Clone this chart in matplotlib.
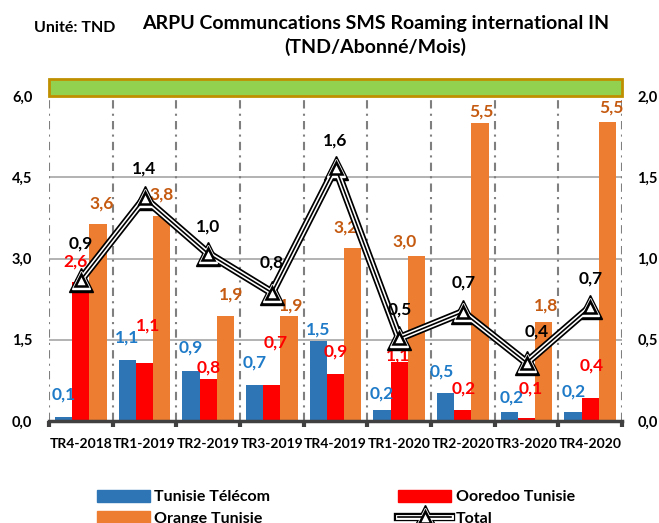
import matplotlib
matplotlib.use('Agg')
import matplotlib.pyplot as plt
from matplotlib.patches import Patch, Rectangle
from matplotlib.lines import Line2D
import numpy as np

plt.rcParams['font.family'] = ['Lato', 'DejaVu Sans']
plt.rcParams['font.weight'] = 'bold'

# data
quarters = ['TR4-2018', 'TR1-2019', 'TR2-2019', 'TR3-2019', 'TR4-2019',
            'TR1-2020', 'TR2-2020', 'TR3-2020', 'TR4-2020']
tunisie_telecom = [0.08, 1.13, 0.93, 0.66, 1.48, 0.20, 0.52, 0.17, 0.17]
ooredoo = [2.56, 1.07, 0.78, 0.67, 0.87, 1.09, 0.20, 0.06, 0.42]
orange = [3.64, 3.78, 1.93, 1.94, 3.20, 3.04, 5.50, 1.83, 5.52]
total = [0.87, 1.37, 1.03, 0.79, 1.56, 0.51, 0.67, 0.36, 0.70]

left_ticks = [0.0, 1.5, 3.0, 4.5, 6.0]
right_ticks = [0.0, 0.5, 1.0, 1.5, 2.0]

# label offsets (pixels) relative to top of bar / marker
tt_off = [(0, 22), (0, 22), (0, 23), (0, 23), (0, 11), (0, 17), (-4, 21), (2, 14), (1, 20)]
oo_off = [(-5, 21), (4, 38), (0, 11), (4, 42), (0, 22), (-1, 6), (1, 22), (4, 29), (1, 33)]
or_off = [(4, 20), (0, 22), (6, 22), (2, 10), (-7, 20), (-12, 15), (1, 12), (2, 16), (4, 15)]
tot_off = [(0, 36), (0, 30), (0, 27), (0, 30), (0, 27), (1, 29), (1, 30), (10, 31), (0, 29)]

c_blue = '#2E75B6'
c_red = '#FF0000'
c_orange = '#ED7D31'


def fmt(v):
    return ('%.1f' % v).replace('.', ',')


fig = plt.figure(figsize=(6.59, 5.23), dpi=100)
ax = fig.add_axes([0.0744, 0.195, 0.8695, 0.6214])

x = np.arange(len(quarters))
w = 0.27

ax.set_xlim(-0.5, len(quarters) - 0.5)
ax.set_ylim(0, 6)

# grid
for yv in left_ticks[1:-1]:
    ax.axhline(yv, color='#A6A6A6', lw=1.2, zorder=0)
for b in np.arange(-0.5, len(quarters), 1.0):
    ax.axvline(b, color='#7F7F7F', lw=1.5, ls=(0, (4, 2.5, 1, 2.5)), zorder=0)

b1 = ax.bar(x - w, tunisie_telecom, w, color=c_blue, zorder=2)
b2 = ax.bar(x, ooredoo, w, color=c_red, zorder=2)
b3 = ax.bar(x + w, orange, w, color=c_orange, zorder=2)

for vals, offs, pos, col in [(tunisie_telecom, tt_off, x - w, '#1F7BC8'),
                             (ooredoo, oo_off, x, c_red),
                             (orange, or_off, x + w, '#C55A11')]:
    for xi, v, (dx, dy) in zip(pos, vals, offs):
        ax.annotate(fmt(v), (xi, v), xytext=(dx, dy), textcoords='offset pixels',
                    ha='center', va='center', color=col, fontsize=12.5,
                    fontweight='bold', zorder=6)

for s in ['top', 'left', 'right']:
    ax.spines[s].set_visible(False)
ax.spines['bottom'].set_color('#404040')
ax.spines['bottom'].set_linewidth(2.5)
ax.spines['bottom'].set_zorder(5)

ax.set_xticks(x)
ax.set_xticklabels(quarters, fontsize=10, fontweight='bold')
ax.tick_params(axis='x', which='major', length=0, pad=12)
ax.set_xticks(np.arange(-0.5, len(quarters), 1.0), minor=True)
ax.tick_params(axis='x', which='minor', length=4, width=3, color='#404040')

ax.set_yticks(left_ticks)
ax.set_yticklabels([fmt(v) for v in left_ticks], fontsize=10.5, fontweight='bold')
ax.tick_params(axis='y', length=0, pad=12)

# green banner
ax.add_patch(Rectangle((0, 1.0), 1, 0.052, transform=ax.transAxes,
                       facecolor='#92D050', edgecolor='#BF8F00', lw=2,
                       clip_on=False, zorder=4))

# total line on secondary axis
ax2 = ax.twinx()
ax2.set_ylim(0, 2)
for s in ['top', 'left', 'right', 'bottom']:
    ax2.spines[s].set_visible(False)
ax2.set_yticks(right_ticks)
ax2.set_yticklabels([fmt(v) for v in right_ticks], fontsize=10.5, fontweight='bold')
ax2.tick_params(axis='y', length=0, pad=11)

l1, = ax2.plot(x, total, color='black', lw=6, marker='^', ms=17, mfc='black',
               mec='black', zorder=3)
l2, = ax2.plot(x, total, color='white', lw=3.5, marker='^', ms=13, mfc='white',
               mec='white', zorder=4)
l3, = ax2.plot(x, total, color='black', lw=1.2, marker='^', ms=9, mfc='white',
               mec='black', mew=1.8, zorder=5)
for xi, v, (dx, dy) in zip(x, total, tot_off):
    ax2.annotate(fmt(v), (xi, v), xytext=(dx, dy), textcoords='offset pixels',
                 ha='center', va='center', color='black', fontsize=12.5,
                 fontweight='bold', zorder=6)

# titles
fig.text(0.570, 0.932, 'ARPU Communcations SMS Roaming international IN\n(TND/Abonné/Mois)',
         ha='center', va='center', fontsize=14, fontweight='bold', linespacing=1.35)
fig.text(0.113, 0.946, 'Unité: TND', ha='center', va='center', fontsize=11.5,
         fontweight='bold')

# legend
handles = [Patch(color=c_blue), Patch(color=c_orange), Patch(color=c_red), (l1, l2, l3)]
labels = ['Tunisie Télécom', 'Orange Tunisie', 'Ooredoo Tunisie', 'Total']
fig.legend(handles, labels, ncol=2, loc='upper left', bbox_to_anchor=(0.147, 0.064),
           frameon=False, fontsize=11.5, handlelength=3.3, handleheight=0.8,
           handletextpad=0.3, columnspacing=8.0, borderpad=0, borderaxespad=0,
           labelspacing=0.45)

fig.savefig('out.png', dpi=100)
